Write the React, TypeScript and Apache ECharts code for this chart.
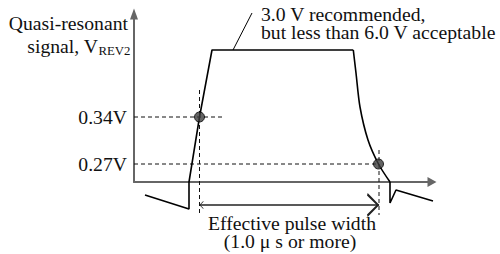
import React, { useEffect, useRef } from 'react';
import * as echarts from 'echarts';

// Schematic waveform (x: time units, y: level units; axis crossing at 0,0)
const riseEdge: [number, number][] = [
  [11, -13], [55, -27], [55, 0], [65.5, 65], [78, 132], [219.3, 132],
];
const fallEdge: [number, number][] = [
  [219.3, 132], [222, 109], [226, 75], [234, 42], [244.5, 18], [256, 0],
];
const ringing: [number, number][] = [[256, 0], [256, -21], [262, -8], [299, -19]];

// Threshold crossing points
const crossings: [number, number][] = [[65.5, 65], [244.5, 18]];

// Dashed guide segments
const guides: [number, number][][] = [
  [[0, 65], [89, 65]],
  [[65.5, 92], [65.5, -33]],
  [[0, 18], [245, 18]],
  [[245, 32], [245, -33]],
];

// Leader line to the amplitude note
const leader: [number, number][] = [[99, 132], [118, 169]];

// Pulse width dimension arrow
const widthArrow: [number, number][] = [[65.5, -23], [245, -23]];

// Y tick levels and labels
const yLevels = [65, 18];
const yLabels = ['0.34V', '0.27V'];

const FONT = '"Liberation Serif", "Times New Roman", serif';
const FS = 19.7;
const chevron = 'path://M6,-12M0,12L6,0L12,12L10.7,12.7L6,2.8L1.3,12.7Z';

export default function App() {
  const ref = useRef<HTMLDivElement>(null);
  useEffect(() => {
    if (!ref.current) return;
    const chart = echarts.init(ref.current, undefined, { renderer: 'svg' });
    const txt = (text: string, x: number, y: number, align: string, size = FS) => ({
      type: 'text',
      silent: true,
      style: {
        text, x, y, fill: '#111', fontSize: size, fontFamily: FONT, lineHeight: size < 15 ? 13 : 17,
        align, textAlign: align, verticalAlign: 'middle', textVerticalAlign: 'middle',
      },
    });
    const solid = (data: [number, number][], width: number, smooth = 0) => ({
      type: 'line', data, clip: false, symbol: 'none', silent: true, smooth,
      lineStyle: { color: '#000', width },
    });
    chart.setOption({
      animation: false,
      backgroundColor: '#fff',
      grid: { left: 134, right: 68, top: 14, bottom: 72, containLabel: false },
      xAxis: {
        type: 'value', min: 0, max: 298,
        axisLine: { show: true, onZero: true, symbol: ['none', 'triangle'], symbolSize: [10, 9], lineStyle: { color: '#666', width: 2 } },
        axisTick: { show: false }, axisLabel: { show: false }, splitLine: { show: false },
      },
      yAxis: {
        type: 'value', min: 0, max: 168,
        axisLine: { show: true, onZero: true, symbol: ['none', 'triangle'], symbolSize: [8, 11], lineStyle: { color: '#666', width: 2 } },
        axisTick: { show: false },
        axisLabel: {
          show: true, customValues: yLevels, margin: 7,
          formatter: (v: number) => yLabels[yLevels.indexOf(v)] ?? '',
          color: '#111', fontSize: FS, fontFamily: FONT,
        },
        splitLine: { show: false },
      },
      series: [
        ...guides.map((seg) => ({
          type: 'line', data: seg, clip: false, symbol: 'none', silent: true,
          lineStyle: { color: '#111', width: 1, type: [4, 3] },
        })),
        solid(riseEdge, 1.6),
        solid(fallEdge, 1.6, 0.3),
        solid(ringing, 1.6),
        solid(leader, 1),
        {
          type: 'lines', coordinateSystem: 'cartesian2d', clip: false, silent: true,
          symbol: [chevron, chevron], symbolSize: [8, 24],
          lineStyle: { color: '#222', width: 1.5, opacity: 1 },
          data: [{ coords: widthArrow }],
        },
        {
          type: 'scatter', data: crossings, clip: false, symbol: 'circle', symbolSize: 10, silent: true,
          itemStyle: { color: '#3c3c3c', borderColor: '#000', borderWidth: 1 },
          z: 5,
        },
      ],
      graphic: [
        txt('Quasi-resonant', 128, 22.5, 'right'),
        txt('signal, V', 98, 46, 'right'),
        txt('REV2', 98.5, 51, 'left', 12.8),
        txt('3.0 V recommended,', 261, 13.5, 'left'),
        txt('but less than 6.0 V acceptable', 261, 31.5, 'left'),
        txt('Effective pulse width', 292, 222.5, 'center'),
        txt('(1.0 \u03bc s or more)', 290, 240.5, 'center'),
      ],
    });
    return () => chart.dispose();
  }, []);
  return <div ref={ref} style={{ position: 'fixed', left: 0, top: 0, width: 500, height: 254 }} />;
}
